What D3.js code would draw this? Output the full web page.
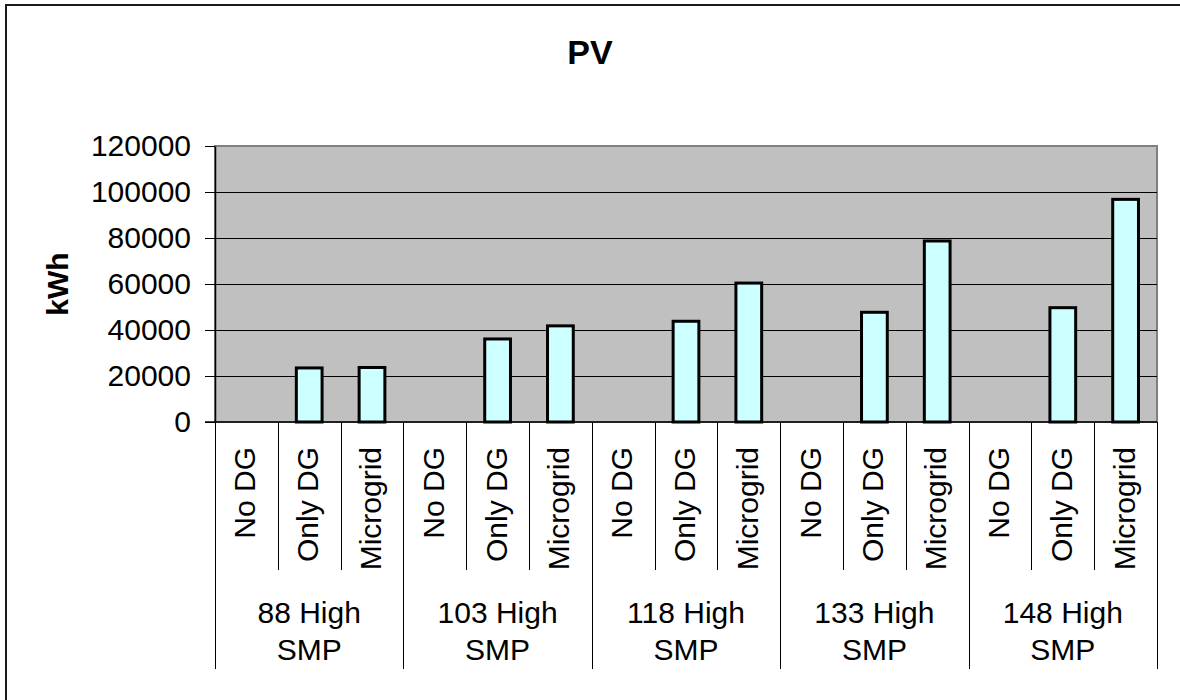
<!DOCTYPE html>
<html><head><meta charset="utf-8">
<script src="https://cdn.jsdelivr.net/npm/d3@7"></script>
<style>body{margin:0;background:#fff}svg{display:block}text{font-family:Arial,"Liberation Sans",sans-serif}</style>
</head><body>
<svg id="c" width="1180" height="700"></svg>
<script>
const groups = ["88 High SMP","103 High SMP","118 High SMP","133 High SMP","148 High SMP"];
const subcats = ["No DG","Only DG","Microgrid"];
const values = [
  [0, 23500, 23700],
  [0, 36100, 41800],
  [0, 43800, 60400],
  [0, 47700, 78700],
  [0, 49700, 96800]
];
const yTicks = [0,20000,40000,60000,80000,100000,120000];
const title = "PV";
const yTitle = "kWh";

const svg = d3.select("#c");
const m = {l:215, r:1157, t:146, b:422};
const FS = 30;

// chart-area border (only top and left visible in the crop)
svg.append("line").attr("x1",5).attr("x2",1180).attr("y1",5).attr("y2",5).attr("stroke","#1a1a1a").attr("stroke-width",2);
svg.append("line").attr("x1",6).attr("x2",6).attr("y1",4).attr("y2",700).attr("stroke","#1a1a1a").attr("stroke-width",2);

const flat = [];
groups.forEach((g,gi)=>subcats.forEach((s,si)=>flat.push({g, s, key:g+"|"+s, v:values[gi][si], gi, si})));

const x = d3.scaleBand().domain(flat.map(d=>d.key)).range([m.l,m.r]).paddingInner(0).paddingOuter(0);
const y = d3.scaleLinear().domain([0,120000]).range([m.b,m.t]);

// plot bg
svg.append("rect").attr("x",m.l).attr("y",m.t).attr("width",m.r-m.l).attr("height",m.b-m.t)
  .attr("fill","#C0C0C0").attr("stroke","#808080").attr("stroke-width",2);

// grid
svg.append("g").selectAll("line").data(yTicks.filter(t=>t>0 && t<120000)).join("line")
  .attr("x1",m.l).attr("x2",m.r).attr("y1",d=>Math.round(y(d))+0.5).attr("y2",d=>Math.round(y(d))+0.5)
  .attr("stroke","#000").attr("stroke-width",1);

// bars
const bw = x.bandwidth()*0.41;
svg.append("g").selectAll("rect").data(flat.filter(d=>d.v>0)).join("rect")
  .attr("x",d=>x(d.key)+x.bandwidth()/2-bw/2).attr("width",bw)
  .attr("y",d=>y(d.v)).attr("height",d=>y(0)-y(d.v))
  .attr("fill","#CCFFFF").attr("stroke","#000").attr("stroke-width",3);

// y axis
const ya = svg.append("g").attr("transform",`translate(${m.l},0)`)
  .call(d3.axisLeft(y).tickValues(yTicks).tickSize(10).tickSizeOuter(0).tickPadding(14).tickFormat(d3.format("d")));
ya.select(".domain").attr("stroke","#000").attr("stroke-width",1.5);
ya.selectAll(".tick line").attr("stroke","#000");
ya.selectAll("text").attr("font-size",FS).attr("fill","#000").attr("font-family","Arial, 'Liberation Sans', sans-serif");

// x baseline
svg.append("line").attr("x1",m.l-10).attr("x2",m.r).attr("y1",m.b).attr("y2",m.b).attr("stroke","#000").attr("stroke-width",1.5);

// category separators
const bounds = flat.map((d,i)=>({x:x(d.key), major:i%3===0}));
bounds.push({x:m.r, major:true});
svg.append("g").selectAll("line").data(bounds).join("line")
  .attr("x1",d=>Math.round(d.x)+0.5).attr("x2",d=>Math.round(d.x)+0.5)
  .attr("y1",m.b).attr("y2",d=>d.major?669:570)
  .attr("stroke","#000").attr("stroke-width",1);

// sub labels
svg.append("g").selectAll("text").data(flat).join("text")
  .attr("transform",d=>`translate(${x(d.key)+x.bandwidth()/2+9},447) rotate(-90)`)
  .attr("text-anchor","end").attr("font-size",FS).attr("fill","#000").text(d=>d.s);

// group labels
groups.forEach((g,gi)=>{
  const cx = (x(g+"|"+subcats[0]) + x(g+"|"+subcats[2]) + x.bandwidth())/2;
  const parts = g.split(" ");
  const t = svg.append("text").attr("text-anchor","middle").attr("font-size",FS).attr("fill","#000");
  t.append("tspan").attr("x",cx).attr("y",623).text(parts[0]+" "+parts[1]);
  t.append("tspan").attr("x",cx).attr("y",660).text(parts.slice(2).join(" "));
});

// titles
svg.append("text").attr("x",590).attr("y",64).attr("text-anchor","middle")
  .attr("font-size",34).attr("font-weight","bold").text(title);
svg.append("text").attr("transform","translate(68,284) rotate(-90)").attr("text-anchor","middle")
  .attr("font-size",FS).attr("font-weight","bold").text(yTitle);
</script>
</body></html>
